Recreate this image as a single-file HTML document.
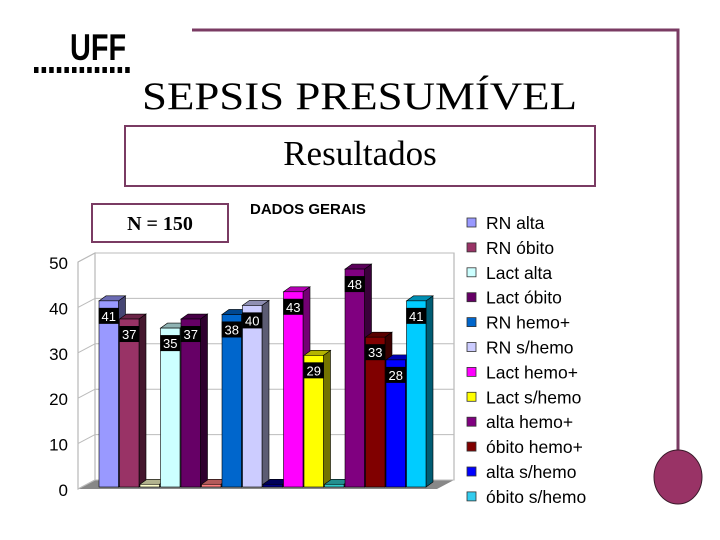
<!DOCTYPE html>
<html><head><meta charset="utf-8"><style>
body{margin:0;background:#fff;}
svg{display:block;font-family:"Liberation Sans",sans-serif;}
</style></head><body>
<svg width="720" height="540" viewBox="0 0 720 540">
<polyline points="192,30 678,30 678,452" fill="none" stroke="#7a3b63" stroke-width="3"/>
<ellipse cx="678" cy="477" rx="24" ry="27" fill="#993366" stroke="#3a1a2a" stroke-width="1"/>
<text x="0" y="60" font-size="37" font-weight="bold" transform="translate(70,0) scale(0.78,1)">UFF</text>
<g id="dots"></g>
<text x="142" y="109" font-size="39" font-family="Liberation Serif,serif" textLength="435" lengthAdjust="spacingAndGlyphs">SEPSIS  PRESUMÍVEL</text>
<rect x="125" y="126" width="470" height="60" fill="none" stroke="#7a3b63" stroke-width="2"/>
<text x="360" y="165" font-size="35" font-family="Liberation Serif,serif" text-anchor="middle">Resultados</text>
<rect x="92" y="204" width="136" height="38" fill="none" stroke="#7a3b63" stroke-width="2"/>
<text x="160" y="230" font-size="20" font-weight="bold" font-family="Liberation Serif,serif" text-anchor="middle">N = 150</text>
<text x="250" y="214" font-size="15" font-weight="bold">DADOS GERAIS</text>
<g id="chart"></g>
<g id="legend"></g>
</svg>
<script>
const values=[41,37,0,35,37,0,38,40,0,43,29,0,48,33,28,41];
const colors=["#9999FF","#993366","#FFFFCC","#CCFFFF","#660066","#FF8080","#0066CC","#CCCCFF","#000080","#FF00FF","#FFFF00","#33CCCC","#800080","#800000","#0000FF","#00CCFF"];
const ticks=[0,10,20,30,40,50];
const legendLabels=["RN alta","RN óbito","Lact alta","Lact óbito","RN hemo+","RN s/hemo","Lact hemo+","Lact s/hemo","alta hemo+","óbito hemo+","alta s/hemo","óbito s/hemo"];
const legendColors=["#9999FF","#993366","#CCFFFF","#660066","#0066CC","#CCCCFF","#FF00FF","#FFFF00","#800080","#800000","#0000FF","#33CCEE"];
const NS="http://www.w3.org/2000/svg";
const g=document.getElementById('chart');
function mk(t,a,p){const e=document.createElementNS(NS,t);for(const k in a)e.setAttribute(k,a[k]);(p||g).appendChild(e);return e;}
const dg=document.getElementById('dots');
for(let i=0;i<13;i++){mk('rect',{x:34+i*7.6,y:67,width:4.5,height:6,fill:'#000'},dg);}
function shade(c,f){const n=parseInt(c.slice(1),16);let r=(n>>16)&255,gg=(n>>8)&255,b=n&255;return `rgb(${Math.round(r*f)},${Math.round(gg*f)},${Math.round(b*f)})`;}
const y0=487,k=4.54,fx=78,bx=95,by=480,bw=20.5,x0=99,dx=7,dy=5;
const y=v=>y0-v*k, yb=v=>by-v*k;
mk('polygon',{points:`${fx},${y0+2} ${bx},${by} ${bx},${yb(50)} ${fx},${y(50)+2}`,fill:'#fff',stroke:'#aaa'});
mk('polygon',{points:`${bx},${by} 454,${by} 454,${yb(50)} ${bx},${yb(50)}`,fill:'#fff',stroke:'#aaa'});
mk('polygon',{points:`${fx},${y0+2} 437,${y0+2} 454,${by} ${bx},${by}`,fill:'#888'});
ticks.forEach(t=>{
  const e=mk('line',{x1:bx,y1:yb(t),x2:454,y2:yb(t),stroke:'#bbb'});
  
  mk('line',{x1:fx,y1:y(t)+2,x2:bx,y2:yb(t),stroke:'#bbb'});
  const l=mk('text',{x:68,y:y(t)+9,'font-size':17,'text-anchor':'end'});
  
  l.textContent=t;
});
values.forEach((v,i)=>{
  const x=x0+i*bw, w=bw-1, top=y(Math.max(v,0.6)), c=colors[i];
  const bar=mk('g',{});
  
  
  mk('polygon',{points:`${x+w},${top} ${x+w+dx},${top-dy} ${x+w+dx},${y0-dy} ${x+w},${y0}`,fill:shade(c,0.45),stroke:'#000','stroke-width':0.6},bar);
  mk('polygon',{points:`${x},${top} ${x+dx},${top-dy} ${x+w+dx},${top-dy} ${x+w},${top}`,fill:shade(c,0.7),stroke:'#000','stroke-width':0.6},bar);
  mk('rect',{x:x,y:top,width:w,height:y0-top,fill:c,stroke:'#000','stroke-width':0.6},bar);
  if(v>0){
    mk('rect',{x:x+w/2-10,y:top+7,width:20,height:16,fill:'#000'},bar);
    const t=mk('text',{x:x+w/2,y:top+20,'font-size':13,fill:'#fff','text-anchor':'middle'},bar);
    t.textContent=v;
  }
});
const lg=document.getElementById('legend');
legendLabels.forEach((s,i)=>{
  const cy=223+i*24.9;
  const it=mk('g',{},lg);
  
  
  mk('rect',{x:467,y:cy-5,width:9,height:9,fill:legendColors[i],stroke:'#333','stroke-width':0.8},it);
  const t=mk('text',{x:486,y:cy+6,'font-size':17.5},it);
  t.textContent=s;
});
</script>
</body></html>
